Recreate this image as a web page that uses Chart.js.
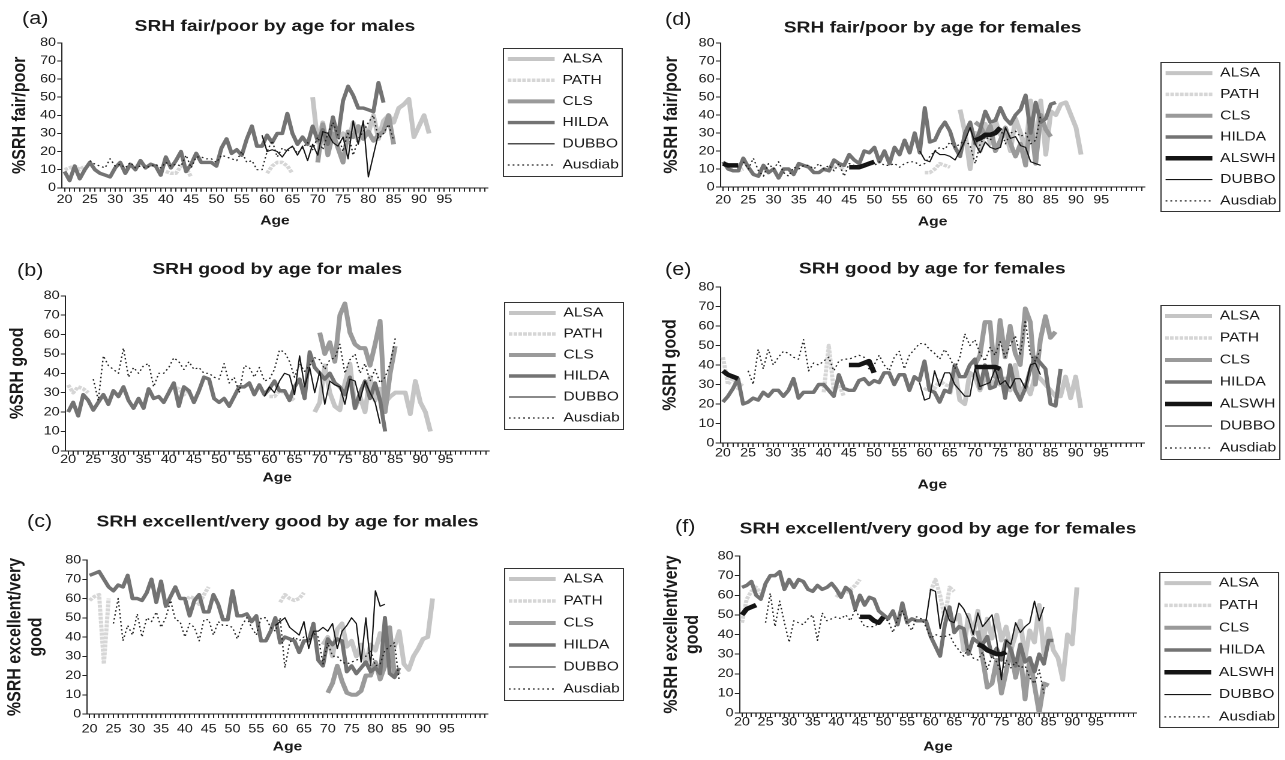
<!DOCTYPE html>
<html>
<head>
<meta charset="utf-8">
<script src="https://cdn.jsdelivr.net/npm/chart.js@4.4.1/dist/chart.umd.min.js"></script>
<style>
  html, body { margin: 0; padding: 0; background: #fff; overflow: hidden; width: 1285px; height: 760px; }
  #page { position: absolute; left: 0; top: 0; width: 1070.8px; height: 760px; transform: scaleX(1.2); transform-origin: 0 0; }
  #page canvas { position: absolute; }
  .tag { position: absolute; font: 18px "Liberation Sans", Arial, sans-serif; color: #1a1a1a; line-height: 20px; white-space: nowrap; }
</style>
</head>
<body>
<div id="page"></div>
<script>
// each series: list of [first age, values] runs (one value per year of age)

// (a) SRH fair/poor, males
const aALSA = [[69, [50, 25, 36, 22, 37, 28, 30, 25, 36, 26, 34, 30, 40, 27, 37, 40, 36, 44, 46, 49, 28, 34, 40, 30]]];
const aPATH = [[20, [10, 11, 12, 10, 12]], [40, [9, 8, 8, 12, 11, 6]], [60, [8, 12, 14, 14, 12, 8]]];
const aCLS = [[70, [14, 35, 18, 30, 22, 14, 31, 28, 34, 27, 31, 26, 29, 31, 40, 24]]];
const aHILDA = [[20, [9, 4, 12, 5, 10, 14, 10, 8, 7, 6, 11, 14, 8, 13, 10, 15, 11, 13, 12, 7,
  17, 11, 15, 20, 9, 13, 19, 14, 14, 14, 12, 22, 27, 19, 21, 18, 27, 34, 23, 23,
  29, 25, 30, 30, 41, 30, 24, 28, 24, 34, 26, 32, 24, 39, 28, 48, 56, 51, 44, 44, 43, 42, 58, 47]]];
const aDUBBO = [[59, [29, 20, 21, 20, 17, 21, 23, 18, 23, 15, 24, 18, 31, 30, 25, 23, 28, 16, 37, 24, 37, 6, 18, 30]]];
const aAusdiab = [[25, [15, 13, 12, 11, 16, 12, 13, 11, 14, 11, 12, 11, 12, 13, 11, 14, 12, 13, 12, 18,
  11, 17, 17, 16, 16, 14, 18, 17, 16, 15, 20, 14, 15, 10, 10, 20, 26, 17, 22, 20,
  23, 19, 22, 25, 21, 28, 21, 30, 36, 29, 20, 31, 18, 27, 31, 36, 40, 27, 30, 35, 26]]];

// (b) SRH good, males
const bALSA = [[69, [20, 25, 44, 30, 23, 21, 35, 45, 22, 28, 20, 38, 26, 32, 25, 28, 30, 30, 30, 19, 36, 25, 20, 10]]];
const bPATH = [[20, [34, 30, 33, 32, 30]], [40, [31, 33, 32, 29, 31]], [60, [28, 28, 31, 30, 28, 26]]];
const bCLS = [[70, [61, 50, 56, 46, 70, 76, 61, 55, 53, 53, 44, 55, 67, 20, 40, 54]]];
const bHILDA = [[20, [20, 25, 18, 29, 26, 21, 25, 29, 24, 31, 28, 33, 26, 22, 27, 22, 32, 27, 28, 25,
  30, 35, 23, 33, 31, 25, 31, 38, 37, 27, 25, 27, 23, 28, 33, 33, 35, 29, 34, 29,
  32, 36, 31, 31, 26, 33, 37, 27, 51, 43, 40, 37, 40, 35, 33, 29, 38, 22, 30, 36, 27, 35, 26, 10]]];
const bDUBBO = [[59, [28, 33, 30, 36, 40, 39, 29, 49, 33, 43, 30, 41, 24, 36, 34, 33, 24, 37, 36, 26, 36, 30, 25, 14]]];
const bAusdiab = [[25, [37, 26, 49, 44, 42, 40, 53, 38, 43, 40, 44, 45, 33, 40, 40, 43, 48, 46, 42, 46,
  42, 43, 40, 40, 38, 37, 45, 35, 38, 30, 44, 43, 38, 43, 36, 37, 42, 52, 51, 46,
  38, 45, 41, 44, 48, 47, 42, 47, 48, 55, 40, 47, 50, 40, 45, 36, 42, 35, 38, 45, 58]]];

// (c) SRH excellent/very good, males
const cALSA = [[69, [36, 40, 30, 44, 47, 35, 38, 30, 36, 26, 36, 33, 42, 35, 27, 35, 43, 26, 23, 30, 34, 39, 40, 60]]];
const cPATH = [[20, [59, 61, 62, 26, 60]], [40, [58, 61, 60, 57, 62, 66]], [60, [58, 62, 60, 59, 60, 63]]];
const cCLS = [[70, [11, 16, 25, 17, 11, 10, 10, 12, 20, 20, 27, 18, 25, 45, 20, 22]]];
const cHILDA = [[20, [72, 73, 74, 70, 66, 64, 67, 66, 72, 60, 60, 59, 63, 70, 58, 69, 56, 61, 66, 60,
  60, 51, 59, 62, 53, 53, 62, 57, 49, 49, 64, 51, 51, 52, 48, 51, 38, 38, 43, 50,
  37, 40, 39, 38, 32, 38, 38, 47, 28, 25, 39, 36, 39, 38, 22, 25, 21, 24, 27, 22, 24, 21, 50, 21, 19, 24]]];
const cDUBBO = [[59, [46, 48, 50, 45, 43, 41, 48, 34, 43, 43, 45, 43, 47, 34, 43, 46, 50, 47, 27, 50, 25, 64, 56, 57]]];
const cAusdiab = [[25, [47, 60, 38, 46, 41, 52, 40, 50, 48, 53, 45, 50, 59, 49, 48, 40, 47, 45, 38, 49,
  49, 41, 48, 46, 46, 45, 39, 46, 50, 45, 41, 50, 50, 45, 43, 50, 24, 37, 40, 38,
  40, 38, 42, 40, 26, 37, 30, 30, 27, 26, 27, 28, 29, 30, 33, 25, 26, 33, 35, 37, 17]]];

// (d) SRH fair/poor, females
const dALSA = [[67, [43, 30, 10, 30, 20, 35, 24, 37, 29, 30, 20, 38, 30, 20, 48, 22, 48, 18, 42, 40, 46, 47, 40, 33, 18]]];
const dPATH = [[20, [14, 11, 9, 9, 10]], [40, [9, 10, 11, 12, 9]], [60, [8, 8, 10, 13, 12, 11]]];
const dCLS = [[70, [36, 34, 28, 34, 20, 26, 33, 24, 17, 24, 12, 38, 13, 40, 32, 28]]];
const dHILDA = [[20, [14, 10, 9, 9, 16, 11, 7, 6, 12, 8, 10, 5, 10, 10, 7, 13, 12, 11, 8, 8,
  10, 9, 15, 13, 12, 18, 15, 13, 20, 19, 22, 14, 20, 13, 22, 18, 26, 19, 30, 19,
  44, 25, 26, 32, 36, 31, 22, 17, 30, 36, 24, 32, 42, 36, 37, 44, 38, 35, 40, 43, 51, 30, 47, 36, 38, 46, 47]]];
const dALSWH = [[20, [13, 12, 12, 12]], [45, [11, 11, 11, 12, 13, 14]], [70, [26, 27, 29, 29, 30, 33]]];
const dDUBBO = [[59, [20, 15, 14, 20, 18, 18, 17, 15, 20, 26, 33, 24, 19, 25, 22, 21, 22, 33, 27, 28, 23, 22, 14, 13, 12]]];
const dAusdiab = [[24, [14, 10, 16, 9, 6, 13, 10, 14, 8, 6, 11, 10, 12, 12, 10, 13, 10, 12, 9, 13,
  6, 13, 12, 11, 12, 13, 12, 14, 12, 12, 13, 11, 13, 14, 14, 12, 13, 17, 20, 22,
  21, 25, 22, 24, 26, 23, 13, 24, 28, 26, 31, 33, 24, 30, 31, 28, 30, 24, 26, 40]]];

// (e) SRH good, females
const eALSA = [[65, [25, 38, 22, 20, 36, 34, 27, 34, 30, 32, 30, 33, 27, 40, 25, 30, 25, 35, 33, 30, 27, 24, 24, 34, 23, 34, 18]]];
const ePATH = [[20, [44, 30, 34, 28, 31]], [40, [26, 50, 27, 30, 24]], [60, [27, 30, 28, 32, 30, 29]]];
const eCLS = [[70, [40, 45, 62, 62, 34, 63, 44, 60, 46, 40, 69, 62, 30, 53, 65, 54, 57]]];
const eHILDA = [[20, [21, 24, 28, 33, 20, 21, 23, 22, 26, 24, 27, 27, 24, 27, 33, 23, 26, 26, 26, 30,
  30, 27, 24, 35, 28, 27, 27, 32, 33, 30, 32, 31, 36, 36, 30, 35, 35, 27, 34, 32,
  42, 27, 26, 21, 27, 26, 40, 34, 34, 40, 43, 28, 40, 28, 29, 38, 23, 40, 27, 22, 28, 38, 44, 41, 38, 20, 19, 38]]];
const eALSWH = [[20, [37, 35, 34, 33]], [45, [40, 40, 40, 41, 42, 36]], [70, [39, 39, 39, 39, 39, 38]]];
const eDUBBO = [[59, [31, 22, 23, 37, 29, 36, 36, 30, 27, 24, 24, 38, 29, 30, 31, 38, 30, 32, 28, 33, 33, 28, 40, 41, 35]]];
const eAusdiab = [[25, [37, 30, 48, 38, 48, 40, 44, 47, 46, 44, 43, 53, 37, 41, 40, 42, 44, 37, 42, 43,
  43, 44, 45, 44, 38, 40, 45, 40, 37, 44, 47, 38, 45, 48, 51, 51, 48, 46, 43, 48,
  44, 38, 44, 56, 50, 53, 46, 42, 49, 45, 52, 44, 50, 55, 45, 63, 45, 42, 48]]];

// (f) SRH excellent/very good, females
const fALSA = [[65, [47, 50, 32, 50, 40, 52, 35, 48, 38, 50, 37, 44, 32, 40, 47, 28, 42, 36, 55, 30, 43, 32, 28, 17, 40, 35, 64]]];
const fPATH = [[20, [46, 58, 62, 64, 61]], [40, [59, 62, 61, 63, 65, 68]], [60, [62, 68, 60, 48, 64, 62]]];
const fCLS = [[70, [42, 28, 13, 15, 27, 10, 21, 33, 18, 30, 7, 28, 14, 0, 15, 14]]];
const fHILDA = [[20, [64, 65, 67, 60, 58, 66, 70, 70, 72, 63, 68, 64, 68, 67, 63, 62, 65, 63, 64, 66,
  63, 59, 64, 62, 53, 60, 55, 59, 58, 52, 50, 48, 52, 45, 56, 46, 48, 47, 47, 47,
  39, 34, 29, 45, 54, 41, 44, 43, 30, 38, 36, 35, 39, 29, 33, 27, 37, 32, 24, 35, 26, 28, 21, 30, 25, 37, 37]]];
const fALSWH = [[20, [50, 53, 54, 55]], [45, [49, 49, 49, 47, 46, 49]], [70, [35, 34, 32, 31, 30, 30, 31]]];
const fDUBBO = [[59, [47, 63, 62, 43, 54, 47, 46, 56, 53, 48, 40, 51, 44, 47, 50, 37, 17, 37, 35, 46, 41, 44, 46, 57, 47, 54]]];
const fAusdiab = [[25, [46, 61, 44, 57, 46, 36, 47, 46, 45, 48, 50, 37, 51, 47, 48, 49, 48, 50, 47, 53,
  48, 44, 44, 44, 46, 48, 47, 41, 48, 52, 46, 42, 49, 48, 44, 38, 40, 39, 39, 40,
  35, 32, 29, 33, 28, 27, 31, 22, 29, 26, 20, 27, 23, 26, 23, 24, 18, 15, 22, 10]]];

const yTicks = [0, 80, 10];          // min, max, step
const xTickEvery = 5, xLastLabel = 95;

const STRETCH = 1.2;                 // the figure is wider than its type
const FONT = '"Liberation Sans", Arial, sans-serif';
const INK = '#1a1a1a';
const TITLE_SIZE = 16, TITLE_LH = TITLE_SIZE * 1.2;

const STYLES = {
  ALSA:    { color: '#c5c5c5', width: 4, dash: [] },
  PATH:    { color: '#d6d6d6', width: 3.5, dash: [3, 1] },
  CLS:     { color: '#9a9a9a', width: 4, dash: [] },
  HILDA:   { color: '#737373', width: 3.4, dash: [] },
  ALSWH:   { color: '#141414', width: 4.5, dash: [] },
  DUBBO:   { color: '#141414', width: 1.1, dash: [] },
  Ausdiab: { color: '#202020', width: 1.2, dash: [1.5, 2.5] }
};

// positions below are in picture pixels
const panels = [
  { tag: '(a)', tagX: 22, tagY: 18, title: 'SRH fair/poor by age for males', yTitle: '%SRH fair/poor',
    plot: [62, 488, 43, 188], titleY: 27, ageY: 221, tickY: 200, yTitleX: 20, legX: 508, legY: 59, legGap: 21.2,
    series: { ALSA: aALSA, PATH: aPATH, CLS: aCLS, HILDA: aHILDA, DUBBO: aDUBBO, Ausdiab: aAusdiab } },
  { tag: '(b)', tagX: 17, tagY: 270, title: 'SRH good by age for males', yTitle: '%SRH good',
    plot: [65, 488, 296, 451], titleY: 270, ageY: 478, tickY: 460, yTitleX: 17, legX: 508, legY: 313, legGap: 21,
    series: { ALSA: bALSA, PATH: bPATH, CLS: bCLS, HILDA: bHILDA, DUBBO: bDUBBO, Ausdiab: bAusdiab } },
  { tag: '(c)', tagX: 27, tagY: 521, title: 'SRH excellent/very good by age for males', yTitle: ['%SRH excellent/very', 'good'],
    plot: [87, 487, 560, 714], titleY: 522, ageY: 747, tickY: 729, yTitleX: 15, legX: 508, legY: 579, legGap: 22,
    series: { ALSA: cALSA, PATH: cPATH, CLS: cCLS, HILDA: cHILDA, DUBBO: cDUBBO, Ausdiab: cAusdiab } },
  { tag: '(d)', tagX: 665, tagY: 19, title: 'SRH fair/poor by age for females', yTitle: '%SRH fair/poor',
    plot: [720, 1144, 43, 187], titleY: 28, ageY: 222, tickY: 200, yTitleX: 671, legX: 1165, legY: 73, legGap: 21.3,
    series: { ALSA: dALSA, PATH: dPATH, CLS: dCLS, HILDA: dHILDA, ALSWH: dALSWH, DUBBO: dDUBBO, Ausdiab: dAusdiab } },
  { tag: '(e)', tagX: 665, tagY: 269, title: 'SRH good by age for females', yTitle: '%SRH good',
    plot: [720, 1144, 287, 443], titleY: 269, ageY: 485, tickY: 453, yTitleX: 670, legX: 1165, legY: 316, legGap: 22,
    series: { ALSA: eALSA, PATH: ePATH, CLS: eCLS, HILDA: eHILDA, ALSWH: eALSWH, DUBBO: eDUBBO, Ausdiab: eAusdiab } },
  { tag: '(f)', tagX: 675, tagY: 526, title: 'SRH excellent/very good by age for females', yTitle: ['%SRH excellent/very', 'good'],
    plot: [740, 1137, 556, 713], titleY: 529, ageY: 747, tickY: 722, yTitleX: 672, legX: 1165, legY: 583, legGap: 22.3,
    series: { ALSA: fALSA, PATH: fPATH, CLS: fCLS, HILDA: fHILDA, ALSWH: fALSWH, DUBBO: fDUBBO, Ausdiab: fAusdiab } }
];

function toPoints(runs) {
  const pts = [];
  runs.forEach(([from, vals], k) => {
    if (k > 0) pts.push({ x: from - 0.5, y: null });
    vals.forEach((v, i) => pts.push({ x: from + i, y: v }));
  });
  return pts;
}

const legendFrame = {
  id: 'legendFrame',
  afterDraw(chart) {
    const boxes = chart.legend && chart.legend.legendHitBoxes;
    if (!boxes || !boxes.length) return;
    const last = boxes[boxes.length - 1];
    const x0 = Math.min(...boxes.map(b => b.left)) - 4;
    const x1 = Math.max(...boxes.map(b => b.left + b.width)) + 3;
    const y0 = boxes[0].top - 4.5;
    const y1 = last.top + last.height + 4;
    const ctx = chart.ctx;
    ctx.save();
    ctx.strokeStyle = '#333';
    ctx.lineWidth = 1;
    ctx.setLineDash([]);
    ctx.strokeRect(Math.round(x0) + 0.5, Math.round(y0) + 0.5, Math.round(x1 - x0), Math.round(y1 - y0));
    ctx.restore();
  }
};

const page = document.getElementById('page');

function makePanel(p) {
  const [pl, pr, pt, pb] = p.plot;
  const names = Object.keys(p.series);
  const pad = p.legGap - 13;
  const colH = names.length * p.legGap;

  // vertical placement of the canvas so the centred legend lands where it should
  const T0 = Math.min(p.titleY - 11, 2 * (p.legY - 6.5) - pad + colH - (p.ageY + 8.8));
  const H = Math.round(2 * (p.legY - 6.5 - T0) - pad + colH);
  const bottom = T0 + H;

  const left = (p.yTitleX - 14) / STRETCH;
  const yAxisW = pl / STRETCH - left;
  const legLeft = p.legX / STRETCH - pad;
  const gapW = legLeft - pr / STRETCH;
  const LEG_W = 106, RIGHT_PAD = 4;
  const W = Math.round(legLeft - left + LEG_W + RIGHT_PAD);

  const titlePadTop = p.titleY - T0 - TITLE_LH / 2;
  const titlePadBottom = pt - T0 - titlePadTop - TITLE_LH;

  const cv = document.createElement('canvas');
  cv.width = W;
  cv.height = H;
  cv.style.left = left + 'px';
  cv.style.top = T0 + 'px';
  page.appendChild(cv);

  const tag = document.createElement('div');
  tag.className = 'tag';
  tag.textContent = p.tag;
  tag.style.left = (p.tagX / STRETCH) + 'px';
  tag.style.top = (p.tagY - 10) + 'px';
  page.appendChild(tag);

  const datasets = names.map((name, i) => ({
    label: name,
    data: toPoints(p.series[name]),
    borderColor: STYLES[name].color,
    backgroundColor: STYLES[name].color,
    borderWidth: STYLES[name].width,
    borderDash: STYLES[name].dash,
    borderJoinStyle: 'round',
    pointRadius: 0,
    pointHoverRadius: 0,
    tension: 0,
    spanGaps: false,
    order: -i
  }));

  new Chart(cv, {
    type: 'line',
    data: { datasets },
    plugins: [legendFrame],
    options: {
      responsive: false,
      animation: false,
      devicePixelRatio: 2,
      events: [],
      layout: { padding: { left: 0, right: RIGHT_PAD, top: 0, bottom: 0 } },
      plugins: {
        title: {
          display: true, text: p.title, fullSize: false, color: INK,
          font: { family: FONT, size: TITLE_SIZE, weight: 'bold', lineHeight: 1.2 },
          padding: { top: titlePadTop, bottom: titlePadBottom }
        },
        legend: {
          position: 'right',
          maxWidth: LEG_W,
          labels: {
            usePointStyle: true, pointStyleWidth: 39, boxHeight: 13, padding: pad,
            font: { family: FONT, size: 13 }, color: INK,
            generateLabels: chart => chart.data.datasets.map((ds, i) => ({
              text: ds.label, datasetIndex: i, hidden: false, fontColor: INK,
              pointStyle: 'line', strokeStyle: ds.borderColor, fillStyle: ds.borderColor,
              lineWidth: ds.borderWidth, lineDash: ds.borderDash, lineCap: 'butt'
            }))
          }
        },
        tooltip: { enabled: false }
      },
      scales: {
        x: {
          type: 'linear', min: 19.5, max: 103.6,
          afterFit: s => { s.height = bottom - pb; },
          ticks: {
            stepSize: 1, autoSkip: false, maxRotation: 0, minRotation: 0, includeBounds: false, maxTicksLimit: 200,
            padding: Math.max(-2, p.tickY - pb - 10), color: INK,
            font: { family: FONT, size: 12, lineHeight: 1 },
            callback: v => (v % xTickEvery === 0 && v <= xLastLabel ? String(v) : '')
          },
          grid: { display: true, drawOnChartArea: false, drawTicks: true, tickLength: 4, color: '#222' },
          border: { display: true, color: '#222', width: 1 },
          title: {
            display: true, text: 'Age', color: INK,
            font: { family: FONT, size: 13, weight: 'bold', lineHeight: 1.2 },
            padding: { top: 0, bottom: bottom - p.ageY - 7.8 }
          }
        },
        y: {
          type: 'linear', min: yTicks[0], max: yTicks[1],
          afterFit: s => { s.width = yAxisW; },
          ticks: { stepSize: yTicks[2], padding: 1, color: INK, font: { family: FONT, size: 12 } },
          grid: { display: true, drawOnChartArea: false, drawTicks: true, tickLength: 4, color: '#222' },
          border: { display: true, color: '#222', width: 1 },
          title: {
            display: true, text: p.yTitle, color: INK,
            font: { family: FONT, size: 16, weight: 'bold', lineHeight: 1.1 },
            padding: { top: p.yTitleX / STRETCH - left - 8.8, bottom: 0 }
          }
        },
        gap: {
          type: 'linear', position: 'right', display: true,
          afterFit: s => { s.width = gapW; },
          grid: { display: false }, border: { display: false }, ticks: { display: false }
        }
      }
    }
  });
}

panels.forEach(makePanel);
</script>
</body>
</html>
